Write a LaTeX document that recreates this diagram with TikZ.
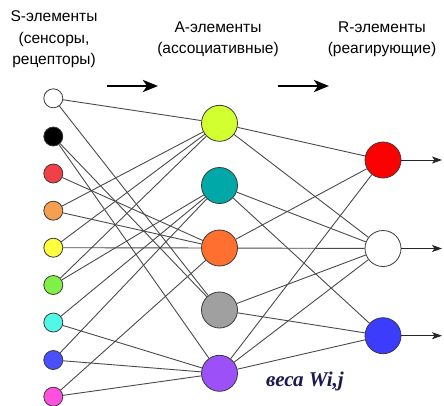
\documentclass[tikz,border=0pt]{standalone}
\usepackage{fontspec}
\setmainfont{Liberation Sans}
\newfontfamily\serifbi{Liberation Serif}
\usetikzlibrary{arrows.meta}
\definecolor{cs3}{HTML}{F04048}
\definecolor{cs4}{HTML}{F5A050}
\definecolor{cs5}{HTML}{FFFF40}
\definecolor{cs6}{HTML}{80F048}
\definecolor{cs7}{HTML}{50F8E8}
\definecolor{cs8}{HTML}{4850FF}
\definecolor{cs9}{HTML}{FF50E0}
\definecolor{ca1}{HTML}{D2FF30}
\definecolor{ca2}{HTML}{00A8A8}
\definecolor{ca3}{HTML}{FF7030}
\definecolor{ca4}{HTML}{A0A0A0}
\definecolor{ca5}{HTML}{9C50F8}
\definecolor{cr1}{HTML}{FF0000}
\definecolor{cr3}{HTML}{3C3CFF}
\definecolor{wcol}{HTML}{1A1A50}
\definecolor{rim}{HTML}{3A3A3A}
\definecolor{wire}{HTML}{4A4A4A}
\begin{document}
\begin{tikzpicture}[x=1pt,y=-1pt,
  snode/.style={circle,draw=rim,line width=0.8pt,minimum size=19pt,inner sep=0pt},
  bignode/.style={circle,draw=rim,line width=0.8pt,minimum size=36pt,inner sep=0pt},
  wireline/.style={draw=wire,line width=0.9pt},
  head/.style={align=center,font=\fontsize{15.5}{21.5}\selectfont},
  bigarrow/.style={line width=2.6pt,-{Stealth[length=15pt,width=12pt,inset=4pt]}},
  outarrow/.style={draw=black!85,line width=0.9pt,-{Stealth[length=10pt,width=7pt,inset=2.5pt]}}]
\useasboundingbox (0,0) rectangle (444,405);
% headings
\node[head] (hs) at (54,39.5) {S-элементы\\(сенсоры,\\рецепторы)};
\node[head] (ha) at (218,39.5) {A-элементы\\(ассоциативные)};
\node[head] (hr) at (382,39.5) {R-элементы\\(реагирующие)};
\coordinate (a1s) at (107,86);
\coordinate (a1e) at (158,86);
\coordinate (a2s) at (278,86);
\coordinate (a2e) at (329,86);
\draw[bigarrow] (a1s) -- (a1e);
\draw[bigarrow] (a2s) -- (a2e);
% S nodes
\node[snode,fill=white] (s1) at (53.3,98.3) {};
\node[snode,fill=black] (s2) at (53.3,136.5) {};
\node[snode,fill=cs3] (s3) at (53.3,173.5) {};
\node[snode,fill=cs4] (s4) at (53.3,210.7) {};
\node[snode,fill=cs5] (s5) at (53.3,247.7) {};
\node[snode,fill=cs6] (s6) at (53.3,285) {};
\node[snode,fill=cs7] (s7) at (53.3,322.5) {};
\node[snode,fill=cs8] (s8) at (53.3,360) {};
\node[snode,fill=cs9] (s9) at (53.3,396.7) {};
% A nodes
\node[bignode,fill=ca1] (a1) at (219.5,123.3) {};
\node[bignode,fill=ca2] (a2) at (219.5,185.5) {};
\node[bignode,fill=ca3] (a3) at (219.5,248) {};
\node[bignode,fill=ca4] (a4) at (219.5,310) {};
\node[bignode,fill=ca5] (a5) at (219.5,373.3) {};
% R nodes
\node[bignode,fill=cr1] (r1) at (383,160) {};
\node[bignode,fill=white] (r2) at (383,248.5) {};
\node[bignode,fill=cr3] (r3) at (383,335.7) {};
% S -> A
\draw[wireline] (s1) -- (a1);
\draw[wireline] (s1) -- (a4);
\draw[wireline] (s2) -- (a4);
\draw[wireline] (s2) -- (a5);
\draw[wireline] (s3) -- (a3);
\draw[wireline] (s4) -- (a1);
\draw[wireline] (s4) -- (a3);
\draw[wireline] (s5) -- (a1);
\draw[wireline] (s5) -- (a3);
\draw[wireline] (s6) -- (a1);
\draw[wireline] (s6) -- (a2);
\draw[wireline] (s7) -- (a2);
\draw[wireline] (s7) -- (a5);
\draw[wireline] (s8) -- (a2);
\draw[wireline] (s8) -- (a5);
\draw[wireline] (s9) -- (a3);
\draw[wireline] (s9) -- (a5);
% A -> R
\draw[wireline] (a1) -- (r1);
\draw[wireline] (a1) -- (r2);
\draw[wireline] (a2) -- (r2);
\draw[wireline] (a2) -- (r3);
\draw[wireline] (a3) -- (r1);
\draw[wireline] (a3) -- (r2);
\draw[wireline] (a4) -- (r2);
\draw[wireline] (a4) -- (r3);
\draw[wireline] (a5) -- (r1);
\draw[wireline] (a5) -- (r2);
\draw[wireline] (a5) -- (r3);
% outputs
\coordinate (o1) at (442,160);
\coordinate (o2) at (442,248.5);
\coordinate (o3) at (442,335.7);
\draw[outarrow] (r1) -- (o1);
\draw[outarrow] (r2) -- (o2);
\draw[outarrow] (r3) -- (o3);
% weights label
\node[text=wcol,font=\serifbi\bfseries\itshape\fontsize{21}{24}\selectfont] (w) at (305,381) {веса Wi,j};
\end{tikzpicture}
\end{document}
